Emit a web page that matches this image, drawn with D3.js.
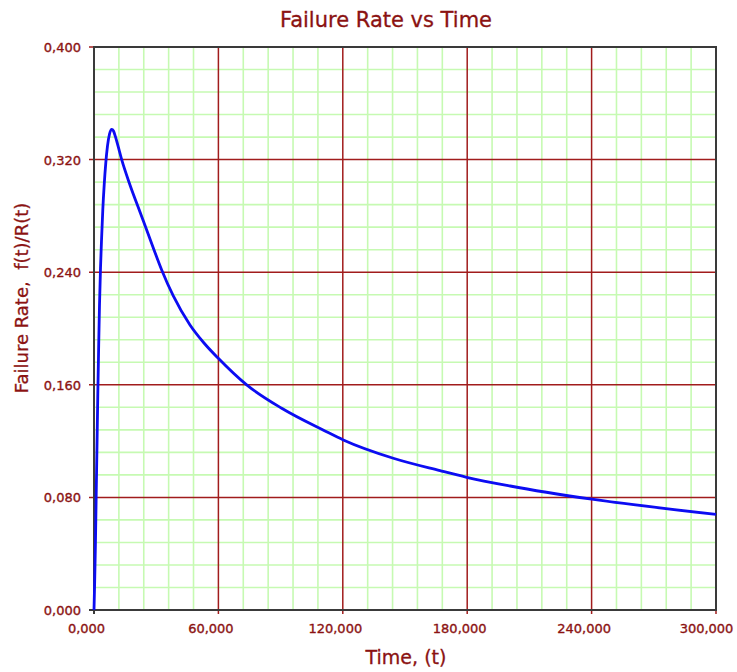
<!DOCTYPE html>
<html>
<head>
<meta charset="utf-8">
<script src="https://cdn.jsdelivr.net/npm/d3@7"></script>
<style>
  html, body { margin: 0; padding: 0; background: #fff; }
  svg { display: block; }
</style>
</head>
<body>
<svg id="chart" width="737" height="672"></svg>
<script>
// Hazard curve samples: time (t) and failure rate f(t)/R(t)
const timeValues = [0, 290, 680, 1060, 1450, 1830, 2220, 2650, 3140, 3670, 4240, 4920, 5690, 6510, 7480, 8540, 9400, 10370, 11580, 13360, 17360, 22190, 27010, 32650, 38250, 46300, 53050, 59950, 73650, 90530, 111410, 120240, 144350, 166880, 179750, 200710, 240110, 300000];
const rateValues = [0, 0.0178, 0.0462, 0.0817, 0.1172, 0.1528, 0.1847, 0.2167, 0.243, 0.2643, 0.2842, 0.302, 0.3176, 0.3297, 0.3382, 0.3415, 0.3403, 0.3361, 0.3297, 0.3199, 0.302, 0.2828, 0.2636, 0.2416, 0.2231, 0.2025, 0.1897, 0.1788, 0.1599, 0.1433, 0.1272, 0.1208, 0.1078, 0.099, 0.0943, 0.0881, 0.0787, 0.068];

const xTickValues = [0, 60000, 120000, 180000, 240000, 300000];
const yTickValues = [0, 0.08, 0.16, 0.24, 0.32, 0.4];

const titleText = "Failure Rate vs Time";
const xLabelText = "Time, (t)";
const yLabelText = "Failure Rate,  f(t)/R(t)";

const fmtX = v => d3.format(",.3f")(v / 1000).replace(".", ",");
const fmtY = v => d3.format(".3f")(v).replace(".", ",");

const svg = d3.select("#chart");
const plotLeft = 94, plotRight = 716, plotTop = 47, plotBottom = 610;
const labelColor = "#8b1212";
const gridMajor = "#a11c1c";
const gridMinor = "#c6fab2";
const font = "'DejaVu Sans', Verdana, sans-serif";

const x = d3.scaleLinear().domain([0, 300000]).range([plotLeft, plotRight]);
const y = d3.scaleLinear().domain([0, 0.4]).range([plotBottom, plotTop]);

// minor grid (5 subdivisions per major step), skipping major positions
const xMinor = d3.range(0, 26).filter(i => i % 5 !== 0).map(i => i * 12000);
const yMinor = d3.range(0, 26).filter(i => i % 5 !== 0).map(i => i * 0.016);

svg.append("g").selectAll("line").data(xMinor).join("line")
  .attr("x1", d => x(d)).attr("x2", d => x(d))
  .attr("y1", plotTop).attr("y2", plotBottom)
  .attr("stroke", gridMinor).attr("stroke-width", 1.6);
svg.append("g").selectAll("line").data(yMinor).join("line")
  .attr("x1", plotLeft).attr("x2", plotRight)
  .attr("y1", d => y(d)).attr("y2", d => y(d))
  .attr("stroke", gridMinor).attr("stroke-width", 1.6);

// major grid, extended past the axes as tick marks
svg.append("g").selectAll("line").data(xTickValues).join("line")
  .attr("x1", d => x(d)).attr("x2", d => x(d))
  .attr("y1", plotTop).attr("y2", plotBottom + 4)
  .attr("stroke", gridMajor).attr("stroke-width", 1.5);
svg.append("g").selectAll("line").data(yTickValues).join("line")
  .attr("x1", plotLeft - 5).attr("x2", plotRight)
  .attr("y1", d => y(d)).attr("y2", d => y(d))
  .attr("stroke", gridMajor).attr("stroke-width", 1.5);

// frame
svg.append("rect")
  .attr("x", plotLeft).attr("y", plotTop)
  .attr("width", plotRight - plotLeft).attr("height", plotBottom - plotTop)
  .attr("fill", "none").attr("stroke", "#3a3a3a").attr("stroke-width", 2);
svg.append("line")
  .attr("x1", plotLeft - 5).attr("x2", plotLeft)
  .attr("y1", plotBottom).attr("y2", plotBottom)
  .attr("stroke", "#3a3a3a").attr("stroke-width", 2);
svg.append("line")
  .attr("x1", plotLeft).attr("x2", plotLeft)
  .attr("y1", plotBottom).attr("y2", plotBottom + 4)
  .attr("stroke", "#3a3a3a").attr("stroke-width", 2);

// heavier text rendering for labels
const heavy = sel => sel
  .attr("fill", labelColor)
  .attr("stroke", labelColor)
  .attr("stroke-width", 0.35)
  .style("font-family", font);

// axes (labels only; ticks drawn with the grid)
const xAxis = d3.axisBottom(x).tickValues(xTickValues).tickFormat(fmtX).tickSize(0).tickPadding(0);
const gx = svg.append("g").attr("transform", `translate(0,${plotBottom})`).call(xAxis);
gx.select(".domain").remove();
gx.selectAll("text")
  .attr("x", (d, i) => i === xTickValues.length - 1 ? -10 : -8)
  .attr("y", 14).attr("dy", "0.71em")
  .call(heavy).style("font-size", "13px");

const yAxis = d3.axisLeft(y).tickValues(yTickValues).tickFormat(fmtY).tickSize(0).tickPadding(0);
const gy = svg.append("g").attr("transform", `translate(${plotLeft},0)`).call(yAxis);
gy.select(".domain").remove();
gy.selectAll("text")
  .attr("x", -13).attr("dy", "0.34em")
  .call(heavy).style("font-size", "13px");

// curve
const line = d3.line()
  .x((d, i) => x(timeValues[i]))
  .y((d, i) => y(rateValues[i]))
  .curve(d3.curveMonotoneX);

svg.append("path")
  .datum(rateValues)
  .attr("d", line)
  .attr("fill", "none")
  .attr("stroke", "#0c0cf2")
  .attr("stroke-width", 2.8)
  .attr("stroke-linejoin", "round");

// titles
svg.append("text")
  .attr("x", 386).attr("y", 27)
  .attr("text-anchor", "middle")
  .call(heavy).attr("stroke-width", 0.3)
  .style("font-size", "21px")
  .text(titleText);

svg.append("text")
  .attr("x", 406).attr("y", 664)
  .attr("text-anchor", "middle")
  .call(heavy).attr("stroke-width", 0.3)
  .style("font-size", "19px")
  .text(xLabelText);

svg.append("text")
  .attr("transform", "translate(28,298) rotate(-90)")
  .attr("text-anchor", "middle")
  .call(heavy).attr("stroke-width", 0.3)
  .style("font-size", "18px")
  .style("white-space", "pre")
  .text(yLabelText);
</script>
</body>
</html>
